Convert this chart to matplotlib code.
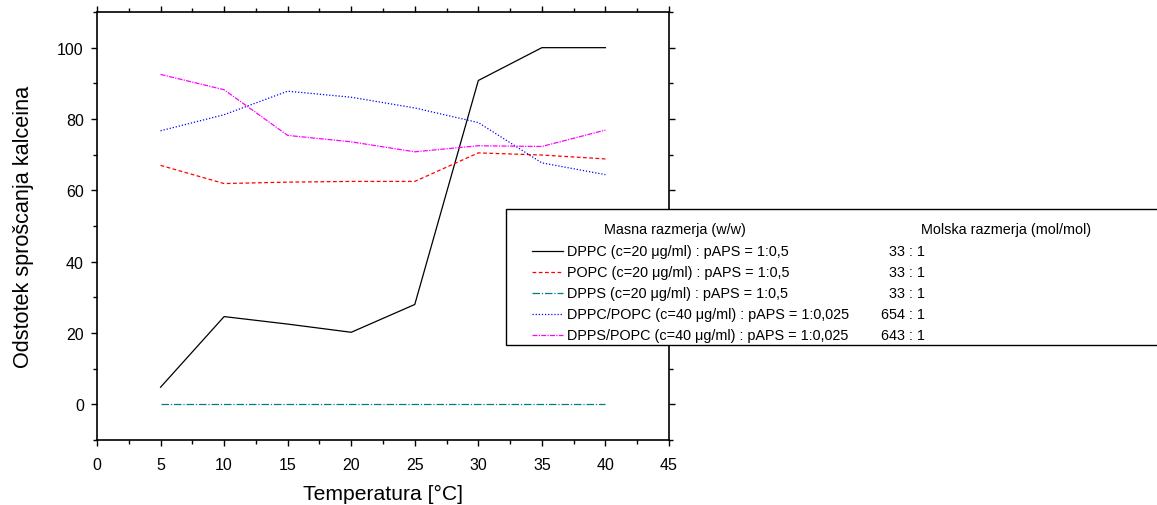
import numpy as np
import matplotlib
matplotlib.use("Agg")
import matplotlib.pyplot as plt
from matplotlib.lines import Line2D
from matplotlib.patches import Rectangle
from matplotlib.ticker import MultipleLocator

plt.rcParams['font.family'] = ['Liberation Sans', 'DejaVu Sans']

# data
temperature = [5, 10, 15, 20, 25, 30, 35, 40]
dppc = [4.8, 24.6, 22.5, 20.2, 28.0, 90.8, 100.0, 100.0]
popc = [67.0, 61.9, 62.3, 62.5, 62.5, 70.5, 69.9, 68.8]
dpps = [0, 0, 0, 0, 0, 0, 0, 0]
dppc_popc = [76.7, 81.2, 87.8, 86.1, 83.1, 79.0, 67.7, 64.4]
dpps_popc = [92.5, 88.2, 75.4, 73.6, 70.8, 72.5, 72.3, 76.9]

labels = [
    "DPPC (c=20 \u03bcg/ml) : pAPS = 1:0,5",
    "POPC (c=20 \u03bcg/ml) : pAPS = 1:0,5",
    "DPPS (c=20 \u03bcg/ml) : pAPS = 1:0,5",
    "DPPC/POPC (c=40 \u03bcg/ml) : pAPS = 1:0,025",
    "DPPS/POPC (c=40 \u03bcg/ml) : pAPS = 1:0,025",
]
molar = ["33 : 1", "33 : 1", "33 : 1", "654 : 1", "643 : 1"]

series = [dppc, popc, dpps, dppc_popc, dpps_popc]
colors = ["black", "red", "#008080", "blue", "magenta"]
styles = ["-", (0, (3, 2)), (0, (6, 1.5, 1, 1.5)), (0, (1, 1.5)), (0, (4, 1, 1, 1))]

W, H = 1157, 506
fig = plt.figure(figsize=(W / 100, H / 100), dpi=100)
ax = fig.add_axes([97 / W, 1 - 441 / H, (669 - 97) / W, (441 - 13) / H])

for ys, c, ls in zip(series, colors, styles):
    ax.plot(temperature, ys, color=c, linestyle=ls, linewidth=0.9)

ax.set_xlim(0, 45)
ax.set_ylim(-10, 110)
ax.xaxis.set_major_locator(MultipleLocator(5))
ax.xaxis.set_minor_locator(MultipleLocator(2.5))
ax.yaxis.set_minor_locator(MultipleLocator(10))
ax.set_yticks([0, 20, 40, 60, 80, 100])
ax.tick_params(which='both', direction='out', top=True, right=True, labelsize=11.5, width=1)
ax.tick_params(which='major', length=4.5)
ax.tick_params(which='minor', length=3)
ax.tick_params(axis='x', which='major', pad=8)
ax.tick_params(axis='y', which='major', pad=5)
for s in ax.spines.values():
    s.set_linewidth(1.2)

ax.set_xlabel("Temperatura [\u00b0C]", fontsize=15.2, labelpad=8)
ax.set_ylabel("Odstotek spro\u0161canja kalceina", fontsize=15.6, labelpad=17)

# legend box drawn in figure pixels
def fx(px):
    return px / W

def fy(py):
    return 1 - py / H

lsize = 10.4
fig.patches.append(Rectangle((fx(506), fy(346)), fx(700), fy(210) - fy(346),
                             transform=fig.transFigure, facecolor='white',
                             edgecolor='black', linewidth=1, zorder=5))
fig.text(fx(675), fy(230), "Masna razmerja (w/w)", ha='center', va='center', fontsize=lsize, zorder=6)
fig.text(fx(1006), fy(230), "Molska razmerja (mol/mol)", ha='center', va='center', fontsize=lsize, zorder=6)
row_y = [252, 273, 294, 315, 336]
for yy, lab, mol, c, ls in zip(row_y, labels, molar, colors, styles):
    fig.lines.append(Line2D([fx(532), fx(563)], [fy(yy), fy(yy)], transform=fig.transFigure,
                            color=c, linestyle=ls, linewidth=0.9, zorder=6))
    fig.text(fx(567), fy(yy), lab, ha='left', va='center', fontsize=lsize, zorder=6)
    fig.text(fx(925), fy(yy), mol, ha='right', va='center', fontsize=lsize, zorder=6)

fig.savefig("out.png", dpi=100)
